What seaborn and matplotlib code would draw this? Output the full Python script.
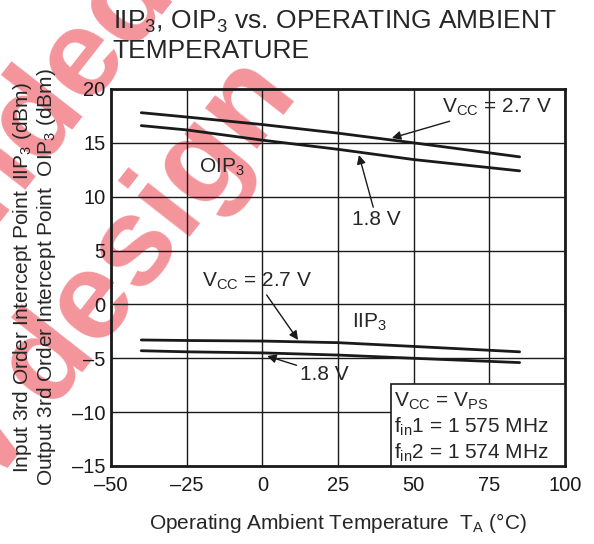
import numpy as np
import pandas as pd
import seaborn as sns
import matplotlib.pyplot as plt

# values
temps = [-40, -25, 0, 25, 50, 85]
oip3_27 = [17.8, 17.4, 16.7, 15.9, 15.0, 13.7]
oip3_18 = [16.6, 16.2, 15.25, 14.4, 13.45, 12.4]
iip3_27 = [-3.3, -3.35, -3.4, -3.55, -3.9, -4.4]
iip3_18 = [-4.3, -4.4, -4.5, -4.7, -5.0, -5.4]

x_ticks = [-50, -25, 0, 25, 50, 75, 100]
y_ticks = [-15, -10, -5, 0, 5, 10, 15, 20]
x_labels = ["\u201350", "\u201325", "0", "25", "50", "75", "100"]
y_labels = ["\u201315", "\u201310", "\u20135", "0", "5", "10", "15", "20"]

df = pd.DataFrame({
    "temp": temps * 4,
    "value": oip3_27 + oip3_18 + iip3_27 + iip3_18,
    "curve": (["OIP3 2.7V"] * 6 + ["OIP3 1.8V"] * 6
              + ["IIP3 2.7V"] * 6 + ["IIP3 1.8V"] * 6),
})

sns.set_style("white")
plt.rcParams["font.family"] = ["Liberation Sans", "DejaVu Sans"]
plt.rcParams["mathtext.fontset"] = "custom"
plt.rcParams["mathtext.rm"] = "Liberation Sans"
plt.rcParams["mathtext.it"] = "Liberation Sans"

ink = "#1a1a1a"
fig = plt.figure(figsize=(5.94, 5.44), dpi=100)
ax = fig.add_axes([0.1869, 0.1434, 0.7643, 0.693])
ax.set_facecolor("none")

# watermark behind the chart
wm = dict(color="#e60012", alpha=0.42, fontsize=90, fontweight="bold",
          rotation=52, rotation_mode="anchor", ha="right", va="baseline",
          zorder=-5)
fig.text(0.30, 1.01, "not recommended", **wm)
fig.text(0.505, 0.825, "for new design", **wm)

sns.lineplot(data=df, x="temp", y="value", units="curve", estimator=None,
             color=ink, linewidth=2, ax=ax, legend=False)

ax.set_xlim(-50, 100)
ax.set_ylim(-15, 20)
ax.set_xticks(x_ticks)
ax.set_xticklabels(x_labels)
ax.set_yticks(y_ticks)
ax.set_yticklabels(y_labels)
ax.tick_params(length=0, labelsize=14.5, colors=ink)
ax.tick_params(axis="x", pad=7)
ax.tick_params(axis="y", pad=4)
ax.grid(True, color=ink, linewidth=1)
for s in ax.spines.values():
    s.set_linewidth(2)
    s.set_color(ink)

ax.set_xlabel("Operating Ambient Temperature  T$_\\mathrm{A}$ (\u00b0C)",
              fontsize=15, va="top")
ax.xaxis.set_label_coords(0.5, -0.12)
ax.set_ylabel("Input 3rd Order Intercept Point  IIP$_\\mathrm{3}$ (dBm)\n"
              "Output 3rd Order Intercept Point  OIP$_\\mathrm{3}$ (dBm)",
              fontsize=15, linespacing=1.05)
ax.yaxis.set_label_coords(-0.117, 0.5)
fig.text(0.19, 0.984, "IIP$_\\mathrm{3}$, OIP$_\\mathrm{3}$ vs. OPERATING AMBIENT\nTEMPERATURE",
         fontsize=19, ha="left", va="top", linespacing=1.2)

fs = 15
arrow = dict(arrowstyle="-|>", color=ink, lw=1, mutation_scale=13,
             shrinkA=0, shrinkB=0)
ax.text(-13.5, 12.7, "OIP$_\\mathrm{3}$", fontsize=fs, ha="center", va="center")
ax.text(35.5, -1.7, "IIP$_\\mathrm{3}$", fontsize=fs, ha="center", va="center")

ax.annotate("V$_\\mathrm{CC}$ = 2.7 V", xy=(42.8, 15.45), xytext=(59.5, 18.3),
            fontsize=fs, ha="left", va="center", arrowprops=arrow)
ax.annotate("1.8 V", xy=(31.9, 13.87), xytext=(37.8, 7.84),
            fontsize=fs, ha="center", va="center", arrowprops=arrow)
ax.annotate("V$_\\mathrm{CC}$ = 2.7 V", xy=(11.8, -3.3), xytext=(-20.0, 2.17),
            fontsize=fs, ha="left", va="center", arrowprops=arrow)
ax.annotate("1.8 V", xy=(1.6, -4.79), xytext=(20.4, -6.46),
            fontsize=fs, ha="center", va="center", arrowprops=arrow)

# conditions box
box_x0, box_y0 = 42.4, -15
ax.add_patch(plt.Rectangle((box_x0, box_y0), 100 - box_x0, 7.6,
                           facecolor="white", edgecolor=ink, lw=1.2, zorder=3))
for i, t in enumerate(["V$_\\mathrm{CC}$ = V$_\\mathrm{PS}$",
                       "f$_\\mathrm{in}$1 = 1 575 MHz",
                       "f$_\\mathrm{in}$2 = 1 574 MHz"]):
    ax.text(box_x0 + 1.2, -9.0 - i * 2.4, t, fontsize=fs, ha="left",
            va="center", zorder=4)

fig.savefig("out.png", dpi=100)
